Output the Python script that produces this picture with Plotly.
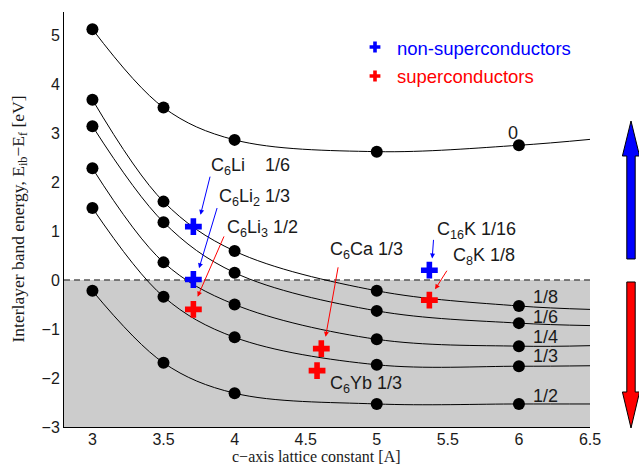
import plotly.graph_objects as go

# ---- data -------------------------------------------------------------
# c-axis lattice constant [A] at which the interlayer band was computed
c_points = [3.0, 3.5, 4.0, 5.0, 6.0]
c_edge = 6.5

# interlayer band energy E_ib - E_f [eV] for each filling
fill_labels = ["0", "1/8", "1/6", "1/4", "1/3", "1/2"]
e_fill_0 = [5.12, 3.52, 2.86, 2.62, 2.75]
e_fill_1_8 = [3.68, 1.60, 0.59, -0.22, -0.53]
e_fill_1_6 = [3.14, 1.18, 0.15, -0.63, -0.88]
e_fill_1_4 = [2.28, 0.36, -0.50, -1.21, -1.35]
e_fill_1_3 = [1.47, -0.34, -1.17, -1.73, -1.76]
e_fill_1_2 = [-0.22, -1.69, -2.31, -2.53, -2.53]
# where each fitted curve leaves the plot at c = 6.5 A
e_edge = [2.87, -0.60, -0.93, -1.34, -1.75, -2.53]

# intercalation compounds
compound_names = [
    "C<sub>6</sub>Li\u00a0\u00a0\u00a0 1/6",
    "C<sub>6</sub>Li<sub>2</sub> 1/3",
    "C<sub>6</sub>Li<sub>3</sub> 1/2",
    "C<sub>6</sub>Ca 1/3",
    "C<sub>6</sub>Yb 1/3",
    "C<sub>16</sub>K 1/16",
    "C<sub>8</sub>K 1/8",
]
compound_c = [3.71, 3.71, 3.71, 4.61, 4.58, 5.37, 5.37]
compound_e = [1.09, 0.01, -0.60, -1.40, -1.85, 0.20, -0.41]
superconducting = [False, False, True, True, True, False, True]

x_ticks = [3, 3.5, 4, 4.5, 5, 5.5, 6, 6.5]
x_tick_text = ["3", "3.5", "4", "4.5", "5", "5.5", "6", "6.5"]
y_ticks = [-3, -2, -1, 0, 1, 2, 3, 4, 5]
y_tick_text = ["\u22123", "\u22122", "\u22121", "0", "1", "2", "3", "4", "5"]

# ---- styling / layout helpers ----------------------------------------
W, H = 639, 465
ML, MR, MT, MB = 64, 49, 12, 38
PW, PH = W - ML - MR, H - MT - MB
X_RANGE = [2.8, 6.5]
Y_RANGE = [-3.0, 5.47]
BLUE, RED = "#0000ff", "#ff0000"
TXT = "#1a1a1a"


def pxx(px):
    return (px - ML) / PW


def pxy(py):
    return (H - MB - py) / PH


def poly(points):
    return "M " + " L ".join(f"{pxx(x):.5f},{pxy(y):.5f}" for x, y in points) + " Z"


def cross_path(cx, cy, a=5.4, t=1.8):
    pts = [(cx - t, cy - a), (cx + t, cy - a), (cx + t, cy - t), (cx + a, cy - t),
           (cx + a, cy + t), (cx + t, cy + t), (cx + t, cy + a), (cx - t, cy + a),
           (cx - t, cy + t), (cx - a, cy + t), (cx - a, cy - t), (cx - t, cy - t)]
    return poly(pts)


def vertical_arrow(cx, tail, base, tip, body=4.2, head=8.6):
    pts = [(cx - body, tail), (cx + body, tail), (cx + body, base), (cx + head, base),
           (cx, tip), (cx - head, base), (cx - body, base)]
    return poly(pts)


fig = go.Figure()

curves = [e_fill_0, e_fill_1_8, e_fill_1_6, e_fill_1_4, e_fill_1_3, e_fill_1_2]
for lab, ys, yend in zip(fill_labels, curves, e_edge):
    fig.add_trace(go.Scatter(
        x=c_points + [c_edge], y=ys + [yend], mode="lines",
        line=dict(color="black", width=1.0, shape="spline", smoothing=1.0),
        hoverinfo="skip", showlegend=False))
    fig.add_trace(go.Scatter(
        x=c_points, y=ys, mode="markers", name=lab,
        marker=dict(color="black", size=12, line=dict(width=0)),
        showlegend=False))

for flag, col in ((False, BLUE), (True, RED)):
    xs = [c for c, s in zip(compound_c, superconducting) if s == flag]
    ys = [e for e, s in zip(compound_e, superconducting) if s == flag]
    fig.add_trace(go.Scatter(
        x=xs, y=ys, mode="markers",
        marker=dict(symbol="cross", color=col, size=14, line=dict(width=0)),
        showlegend=False))

shapes = [
    # occupied region below the Fermi level
    dict(type="rect", xref="x", yref="y", x0=X_RANGE[0], x1=X_RANGE[1], y0=Y_RANGE[0], y1=0,
         fillcolor="#cccccc", line=dict(width=0), layer="below"),
    dict(type="line", xref="x", yref="y", x0=X_RANGE[0], x1=X_RANGE[1], y0=0, y1=0,
         line=dict(color="#555555", width=1.5, dash="6px,4px"), layer="below"),
    # legend symbols
    dict(type="path", xref="paper", yref="paper", path=cross_path(375, 47),
         fillcolor=BLUE, line=dict(width=0)),
    dict(type="path", xref="paper", yref="paper", path=cross_path(375, 76),
         fillcolor=RED, line=dict(width=0)),
    # up / down arrows at the right edge
    dict(type="path", xref="paper", yref="paper",
         path=vertical_arrow(631, 259, 156, 121),
         fillcolor=BLUE, line=dict(color="black", width=1)),
    dict(type="path", xref="paper", yref="paper",
         path=vertical_arrow(631, 282, 392, 428),
         fillcolor=RED, line=dict(color="black", width=1)),
]

annotations = []
lab_font = dict(family="Liberation Sans, Arial", size=18, color=TXT)

# compound labels (left edge, vertical centre) in data units
compound_label_pos = [(3.82, 2.31), (3.875, 1.69), (3.935, 1.06), (4.66, 0.61),
                      (4.66, -2.14), (5.41, 1.02), (5.52, 0.47)]
for name, (lx, ly) in zip(compound_names, compound_label_pos):
    annotations.append(dict(x=lx, y=ly, xref="x", yref="y", text=name, showarrow=False,
                            xanchor="left", yanchor="middle", font=lab_font))

# pointer arrows: (tail x, tail y, tip x, tip y, colour)
pointers = [
    (3.83, 2.14, 3.76, 1.33, BLUE),
    (3.88, 1.50, 3.75, 0.24, BLUE),
    (3.93, 0.92, 3.74, -0.34, RED),
    (4.73, 0.29, 4.64, -1.16, RED),
    (5.40, 0.85, 5.39, 0.44, BLUE),
    (5.50, 0.22, 5.41, -0.19, RED),
]
for tx, ty, hx, hy, col in pointers:
    annotations.append(dict(x=hx, y=hy, ax=tx, ay=ty, xref="x", yref="y", axref="x", ayref="y",
                            text="", showarrow=True, arrowhead=2, arrowsize=1.0, arrowwidth=1,
                            arrowcolor=col, standoff=0, startstandoff=0))

# filling labels at the right end of each curve
fill_label_pos = [(5.91, 3.0), (6.085, -0.35), (6.085, -0.76), (6.085, -1.16),
                  (6.085, -1.56), (6.085, -2.36)]
for lab, (lx, ly) in zip(fill_labels, fill_label_pos):
    annotations.append(dict(x=lx, y=ly, xref="x", yref="y", text=lab, showarrow=False,
                            xanchor="left", yanchor="middle", font=lab_font))

# legend text
leg_font = dict(family="Liberation Sans, Arial", size=18.5)
annotations.append(dict(x=pxx(395), y=pxy(48), xref="paper", yref="paper",
                        text="non-superconductors", showarrow=False, xanchor="left",
                        yanchor="middle", font=dict(leg_font, color=BLUE)))
annotations.append(dict(x=pxx(395), y=pxy(77), xref="paper", yref="paper",
                        text="superconductors", showarrow=False, xanchor="left",
                        yanchor="middle", font=dict(leg_font, color=RED)))

# axis titles
annotations.append(dict(x=pxx(316), y=pxy(456), xref="paper", yref="paper",
                        text="c\u2212axis lattice constant [A]", showarrow=False,
                        xanchor="center", yanchor="middle",
                        font=dict(family="Liberation Serif, Times New Roman", size=16, color=TXT)))
annotations.append(dict(x=pxx(19), y=0.5, xref="paper", yref="paper",
                        text="Interlayer band energy, E<sub>ib</sub>\u2212E<sub>f</sub> [eV]",
                        showarrow=False, textangle=-90, xanchor="center", yanchor="middle",
                        font=dict(family="Liberation Serif, Times New Roman", size=17.5, color=TXT)))

tick_font = dict(family="Liberation Sans, Arial", size=16, color=TXT)
fig.update_layout(
    width=W, height=H,
    margin=dict(l=ML, r=MR, t=MT, b=MB, pad=0),
    paper_bgcolor="white", plot_bgcolor="white",
    showlegend=False,
    shapes=shapes, annotations=annotations,
    xaxis=dict(range=X_RANGE, tickvals=x_ticks, ticktext=x_tick_text, showgrid=False,
               zeroline=False, showline=True, linecolor="black", linewidth=1,
               ticks="", tickfont=tick_font, ticklabelstandoff=-2, fixedrange=True),
    yaxis=dict(range=Y_RANGE, tickvals=y_ticks, ticktext=y_tick_text, showgrid=False,
               zeroline=False, showline=True, linecolor="black", linewidth=1,
               ticks="", tickfont=tick_font, fixedrange=True),
)

fig.write_html("out.html")
